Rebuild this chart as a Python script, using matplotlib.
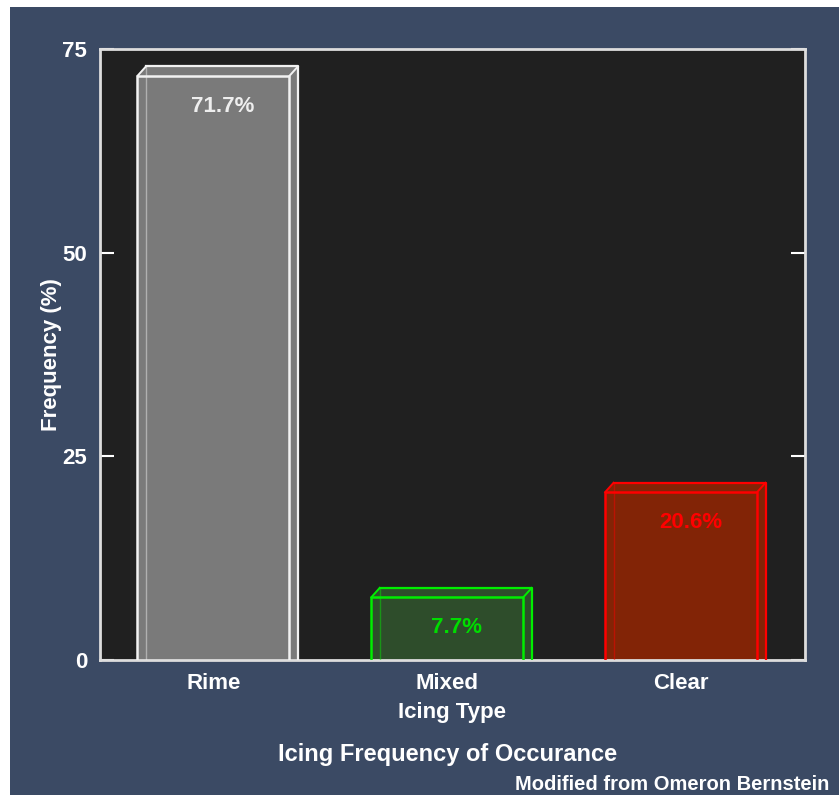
import matplotlib.pyplot as plt
from matplotlib.patches import Polygon

# Data
categories = ['Rime', 'Mixed', 'Clear']
frequency = [71.7, 7.7, 20.6]
value_labels = ['71.7%', '7.7%', '20.6%']
y_ticks = [0, 25, 50, 75]

fill_colors = ['#7a7a7a', '#2e4d2b', '#822406']
edge_colors = ['#f2f2f2', '#00ee00', '#ff0000']
text_colors = ['#eeeeee', '#00dd00', '#ff0000']

bg = '#3b4a64'
plt.rcParams['font.family'] = ['Liberation Sans', 'DejaVu Sans']
plt.rcParams['font.weight'] = 'bold'

fig = plt.figure(figsize=(8.39, 7.95), dpi=100)
fig.patch.set_facecolor('white')
# slate panel, white strip on the left and top
fig.add_artist(plt.Rectangle((10 / 839, 0), 1, 1 - 7 / 795, transform=fig.transFigure,
                             facecolor=bg, edgecolor='none', zorder=-10))

ax = fig.add_axes([0.119, 0.1698, 0.8405, 0.7686])
ax.set_facecolor('#202020')

w = 0.65      # bar width
dx = 0.036    # depth offset in x (data units)
dy = 1.15     # depth offset in y (data units)

for i, (v, fc, ec, tc, lab) in enumerate(zip(frequency, fill_colors, edge_colors, text_colors, value_labels)):
    x0, x1 = i - w / 2, i + w / 2
    # whole box fill (front + top + side)
    ax.add_patch(Polygon([(x0, 0), (x0, v), (x0 + dx, v + dy), (x1 + dx, v + dy),
                          (x1 + dx, 0), (x1, 0)], closed=True,
                         facecolor=fc, edgecolor='none', zorder=2))
    # back outline seen through the box
    ax.plot([x0 + dx, x0 + dx], [0, v + dy], color=ec, lw=1.0, alpha=0.45, zorder=3)
    ax.plot([x0 + dx, x1 + dx, x1 + dx], [v + dy, v + dy, 0], color=ec, lw=1.6, zorder=4)
    # connectors
    ax.plot([x0, x0 + dx], [v, v + dy], color=ec, lw=1.4, zorder=4)
    ax.plot([x1, x1 + dx], [v, v + dy], color=ec, lw=1.4, zorder=4)
    # front face
    ax.plot([x0, x0, x1, x1], [0, v, v, 0], color=ec, lw=1.8, zorder=5)
    ax.annotate(lab, (i + 0.04, v), xytext=(0, -22), textcoords='offset points',
                ha='center', va='center', color=tc, fontsize=16, fontweight='bold', zorder=6)

ax.set_xlim(-0.486, 2.53)
ax.set_ylim(0, 75)
ax.set_xticks(range(len(categories)))
ax.set_xticklabels(categories)
ax.set_yticks(y_ticks)

ax.tick_params(axis='y', direction='in', length=10, width=1.5, color='white',
               right=True, labelcolor='white', labelsize=16, pad=9)
ax.tick_params(axis='x', length=0, labelcolor='white', labelsize=16, pad=9)
for lbl in ax.get_xticklabels() + ax.get_yticklabels():
    lbl.set_fontweight('bold')

for s in ax.spines.values():
    s.set_color('#dddddd')
    s.set_linewidth(2)

ax.set_xlabel('Icing Type', color='white', fontsize=16, fontweight='bold', labelpad=6)
ax.set_ylabel('Frequency (%)', color='white', fontsize=16, fontweight='bold', labelpad=0)

fig.text(0.534, 1 - 755 / 795, 'Icing Frequency of Occurance', ha='center', va='center',
         color='white', fontsize=17, fontweight='bold')
fig.text(0.988, 1 - 785 / 795, 'Modified from Omeron Bernstein', ha='right', va='center',
         color='white', fontsize=14.5, fontweight='bold')

fig.savefig('out.png', dpi=100, facecolor=fig.get_facecolor())
